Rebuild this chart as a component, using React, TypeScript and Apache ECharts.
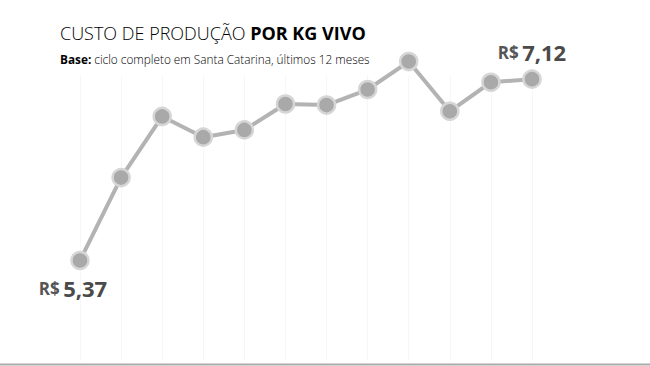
import React, { useEffect, useRef } from "react";
import * as echarts from "echarts";

const months = ["1", "2", "3", "4", "5", "6", "7", "8", "9", "10", "11", "12"];
const costs = [5.37, 6.17, 6.76, 6.56, 6.63, 6.88, 6.87, 7.02, 7.29, 6.81, 7.09, 7.12];
const titleLight = "CUSTO DE PRODUÇÃO ";
const titleBold = "POR KG VIVO";
const subBold = "Base:";
const subText = " ciclo completo em Santa Catarina, últimos 12 meses";

const FONT = "'Open Sans', sans-serif";

const fmt = (v: number) => v.toFixed(2).replace(".", ",");

export default function App() {
  const ref = useRef<HTMLDivElement>(null);
  useEffect(() => {
    if (!ref.current) return;
    const chart = echarts.init(ref.current, undefined, { renderer: "svg" });
    const last = costs.length - 1;
    const labelRich = {
      c: { fontSize: 17, fontWeight: "bold", color: "#555", fontFamily: FONT },
      v: { fontSize: 22, fontWeight: "bold", color: "#4a4a4a", fontFamily: FONT },
    };
    const data = costs.map((v, i) => {
      if (i === 0) {
        return {
          value: v,
          label: {
            show: true,
            position: "bottom",
            distance: 7,
            offset: [-7, 0],
            formatter: (p: any) => `{c|R$} {v|${fmt(p.value)}}`,
            rich: labelRich,
          },
        };
      }
      if (i === last) {
        return {
          value: v,
          label: {
            show: true,
            position: "top",
            distance: 6,
            offset: [0, 0],
            formatter: (p: any) => `{c|R$} {v|${fmt(p.value)}}`,
            rich: labelRich,
          },
        };
      }
      return v;
    });
    chart.setOption({
      animation: false,
      backgroundColor: "#ffffff",
      grid: { left: 80, right: 118, top: 75, bottom: 5 },
      xAxis: {
        type: "category",
        data: months,
        boundaryGap: false,
        axisLine: { show: false },
        axisTick: { show: false },
        axisLabel: { show: false },
        splitLine: { show: true, lineStyle: { color: "#f7f7f7", width: 1 } },
      },
      yAxis: {
        type: "value",
        min: 4.4,
        max: 7.16,
        show: false,
        splitLine: { show: false },
      },
      series: [
        {
          type: "line",
          data,
          clip: false,
          symbol: "circle",
          symbolSize: 17,
          lineStyle: { color: "#b3b3b3", width: 4 },
          itemStyle: { color: "#a9a9a9", borderColor: "#d6d6d6", borderWidth: 2.5 },
          z: 3,
        },
      ],
      graphic: [
        {
          type: "text",
          left: 60,
          top: 24,
          style: {
            text: `{l|${titleLight}}{b|${titleBold}}`,
            rich: {
              l: { fontSize: 18, fontWeight: 300, color: "#222", fontFamily: FONT },
              b: { fontSize: 18, fontWeight: "bold", color: "#222", fontFamily: FONT },
            },
          },
        },
        {
          type: "text",
          left: 60,
          top: 53,
          style: {
            text: `{b|${subBold}}{l|${subText}}`,
            rich: {
              b: { fontSize: 11.8, fontWeight: "bold", color: "#666", fontFamily: FONT },
              l: { fontSize: 11.8, fontWeight: 300, color: "#888", fontFamily: FONT },
            },
          },
        },
        {
          type: "line",
          shape: { x1: 0, y1: 364.5, x2: 650, y2: 364.5 },
          style: { stroke: "#aaaaaa", lineWidth: 2 },
        },
      ],
    });
    return () => chart.dispose();
  }, []);
  return (
    <div
      ref={ref}
      style={{ position: "fixed", left: 0, top: 0, width: 650, height: 366, background: "#fff" }}
    />
  );
}
